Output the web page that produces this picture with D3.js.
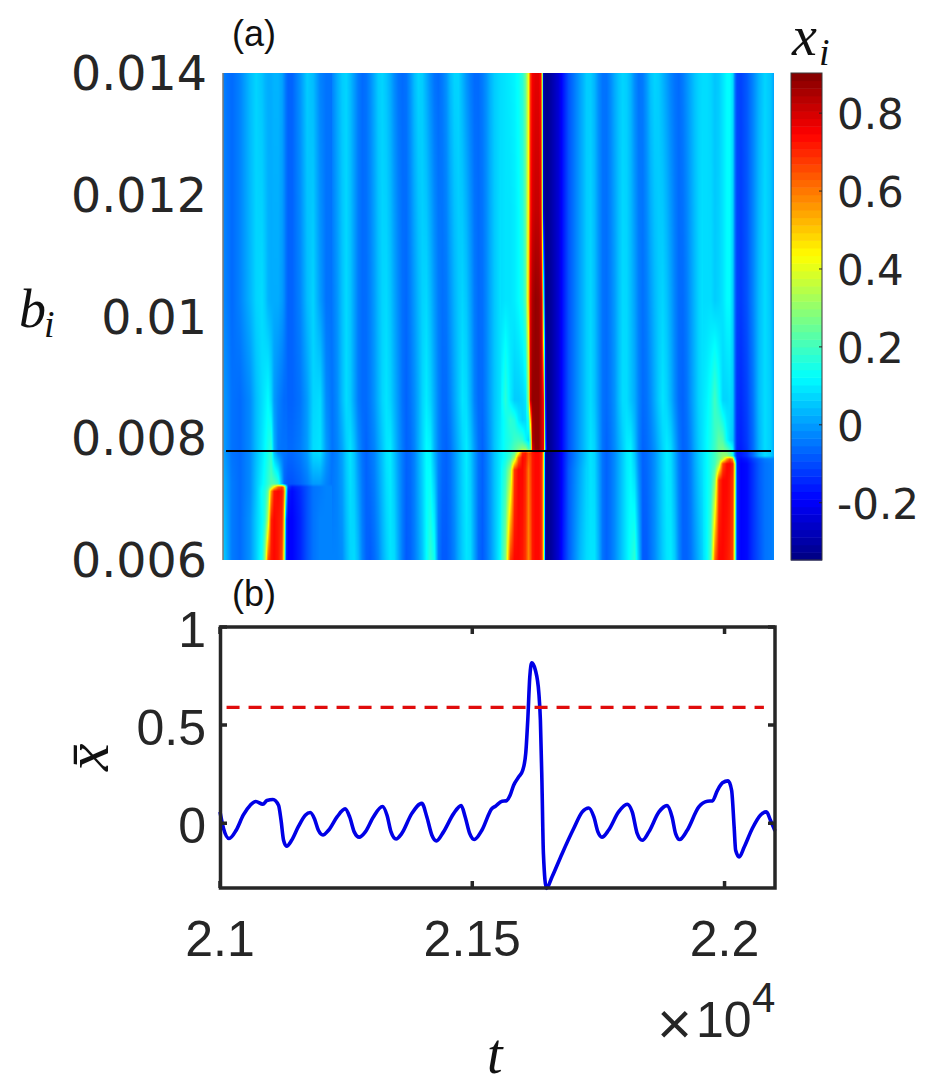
<!DOCTYPE html>
<html>
<head>
<meta charset="utf-8">
<script src="https://cdn.jsdelivr.net/npm/d3@7"></script>
<style>
  html, body { margin: 0; padding: 0; background: #fff; }
  text { font-family: "Liberation Sans", sans-serif; fill: #262626; }
  .dj { font-family: "DejaVu Sans", sans-serif; }
  .math { font-family: "Liberation Serif", serif; font-style: italic; fill: #111; }
</style>
</head>
<body>
<svg id="chart" width="937" height="1086"></svg>
<script>
// (a) x_i(t, b_i), five pieces along t, each with its own knots
const tA = [21000,21008,21018,21034,21054,21066,21078,21084,21090,21096,21102,21110,21118,21122,21126,21130,21138,21154,21168,21180,21194,21206,21218]
const bA = [0.014,0.01027,0.00863,0.00781,0.00725,0.0072,0.00713,0.00666,0.006]
const xA = [
  [-.03,-.05,-.06,-.03,.04,.07,.05,.03,.02,.02,.03,.03,.01,-.02,-.05,-.07,-.07,-.01,.06,.04,-.03,-.05,-.05],
  [-.02,-.04,-.06,-.03,.03,.07,.08,.06,.03,.02,.02,.02,.00,-.02,-.05,-.07,-.07,-.03,.04,.07,.00,-.05,-.05],
  [.00,-.02,-.05,-.06,-.02,.04,.08,.10,.12,.08,.00,-.03,-.05,-.06,-.06,-.07,-.07,-.05,.00,.07,.08,-.02,-.05],
  [.01,-.02,-.05,-.06,-.02,.04,.09,.12,.15,.18,.03,-.04,-.05,-.05,-.05,-.06,-.06,-.04,.00,.08,.09,.00,-.05],
  [.03,.00,-.04,-.06,-.02,.05,.11,.14,.18,.22,.22,.18,.02,-.06,-.08,-.09,-.09,-.07,-.04,.00,.00,-.03,-.05],
  [.03,.00,-.04,-.06,-.02,.05,.12,.15,.20,.30,.45,.62,.68,.55,.15,-.12,-.16,-.13,-.09,-.05,-.04,-.03,-.03],
  [.03,.00,-.04,-.06,-.02,.05,.13,.16,.24,.55,.72,.74,.72,.62,.15,-.16,-.18,-.14,-.09,-.05,-.04,-.03,-.03],
  [.05,.01,-.04,-.06,-.01,.06,.12,.18,.35,.70,.74,.72,.70,.50,-.10,-.19,-.19,-.15,-.09,-.05,-.03,-.03,-.03],
  [.07,.02,-.04,-.06,-.01,.06,.14,.30,.65,.72,.74,.72,.65,.40,-.14,-.19,-.19,-.15,-.09,-.05,-.03,-.03,-.03]
]
const tB = [21218,21228,21238,21246,21254,21262,21270,21278,21286,21294,21302,21310,21318,21326,21334,21342,21350,21358,21366,21374,21382,21390,21398,21406,21414,21422,21430,21438,21446,21454,21462,21470,21478,21486,21494,21502,21510,21518,21526,21534,21542,21554]
const bB = [0.014,0.00863,0.00781,0.006]
const xB = [
  [-.03,.02,.06,.07,.04,.00,-.04,-.06,-.05,-.02,.02,.06,.07,.05,.02,-.02,-.05,-.06,-.05,-.01,.04,.07,.06,.02,-.02,-.05,-.06,-.04,-.01,.04,.07,.07,.03,-.01,-.04,-.06,-.06,-.04,-.01,.03,.06,.08],
  [-.05,-.02,.04,.08,.06,.01,-.04,-.06,-.06,-.04,-.01,.03,.07,.09,.07,.03,-.01,-.05,-.07,-.05,-.02,.02,.07,.10,.07,.02,-.03,-.06,-.06,-.03,.01,.05,.09,.08,.03,-.03,-.06,-.06,-.03,.01,.05,.09],
  [-.05,-.03,.01,.06,.09,.05,-.01,-.05,-.07,-.05,-.03,.01,.05,.09,.10,.05,.00,-.04,-.07,-.06,-.03,.02,.07,.12,.11,.03,-.03,-.06,-.07,-.05,-.01,.03,.07,.10,.06,.00,-.05,-.07,-.04,.00,.05,.10],
  [-.03,-.03,-.02,.03,.07,.08,.04,-.03,-.07,-.08,-.06,-.03,.02,.06,.09,.08,.02,-.04,-.08,-.07,-.04,.00,.05,.12,.18,.14,-.04,-.08,-.08,-.06,-.03,.02,.06,.09,.08,.01,-.06,-.08,-.05,-.01,.04,.12]
]
const tC = [21554,21564,21574,21582,21590,21598,21604,21610,21614,21618,21624,21630,21634,21637,21640,21644,21648,21658,21670,21680,21690,21702,21714,21726]
const bC = [0.014,0.01175,0.01027,0.00863,0.0083,0.00797,0.00782,0.00776,0.00768,0.00748,0.006]
const xC = [
  [.08,.09,.10,.11,.13,.17,.25,.42,.68,.76,.78,.78,.74,.50,-.30,-.33,-.33,-.29,-.24,-.16,-.09,-.04,.01,.06],
  [.08,.09,.09,.10,.12,.16,.24,.45,.72,.80,.82,.82,.78,.55,-.28,-.33,-.33,-.29,-.24,-.16,-.09,-.04,.01,.06],
  [.08,.09,.09,.10,.12,.15,.22,.50,.78,.85,.88,.87,.84,.78,.20,-.33,-.34,-.30,-.24,-.16,-.09,-.04,.01,.06],
  [.10,.17,.10,.06,.06,.07,.09,.30,.82,.88,.88,.88,.84,.80,.72,-.20,-.34,-.30,-.24,-.16,-.09,-.04,.01,.06],
  [.10,.14,.18,.16,.10,.07,.08,.16,.50,.86,.88,.88,.84,.80,.74,-.15,-.34,-.30,-.24,-.16,-.09,-.04,.01,.06],
  [.10,.14,.16,.19,.20,.18,.12,.08,.25,.85,.88,.88,.84,.80,.76,-.10,-.34,-.30,-.24,-.16,-.09,-.04,.01,.06],
  [.10,.14,.18,.22,.26,.30,.30,.20,.22,.80,.88,.88,.84,.80,.76,-.05,-.34,-.30,-.24,-.16,-.09,-.04,.01,.06],
  [.10,.14,.18,.24,.42,.70,.72,.65,.68,.72,.74,.74,.72,.70,.45,-.30,-.34,-.30,-.24,-.16,-.09,-.04,.01,.06],
  [.10,.14,.20,.32,.62,.74,.72,.64,.66,.72,.74,.74,.72,.70,.45,-.30,-.34,-.30,-.24,-.16,-.09,-.04,.01,.06],
  [.11,.18,.32,.68,.74,.74,.70,.60,.66,.72,.74,.74,.72,.68,.45,-.30,-.34,-.30,-.24,-.16,-.08,-.03,.02,.07],
  [.14,.28,.68,.74,.74,.72,.68,.58,.64,.72,.74,.74,.72,.68,.45,-.30,-.34,-.30,-.24,-.15,-.08,-.02,.04,.08]
]
const tD = [21726,21734,21742,21750,21758,21766,21774,21782,21790,21798,21806,21814,21822,21830,21838,21846,21854,21862,21870,21878,21886,21894,21902,21910,21918,21926,21934,21942,21950,21958]
const bD = [0.014,0.00863,0.00781,0.006]
const xD = [
  [.06,.06,.03,-.02,-.05,-.05,-.02,.02,.05,.07,.06,.03,-.02,-.05,-.04,.00,.05,.07,.06,.03,.00,-.03,-.05,-.06,-.04,-.01,.02,.05,.07,.08],
  [.06,.08,.05,.00,-.05,-.06,-.04,-.01,.04,.08,.08,.05,.02,-.03,-.06,-.05,-.02,.02,.06,.09,.07,.03,-.02,-.06,-.07,-.05,-.01,.03,.07,.09],
  [.06,.09,.07,.01,-.05,-.07,-.05,-.02,.02,.06,.10,.11,.05,-.03,-.07,-.06,-.04,-.01,.03,.07,.10,.08,.02,-.04,-.07,-.06,-.03,.02,.06,.09],
  [.08,.09,.09,.03,-.05,-.07,-.05,-.02,.02,.06,.10,.14,.18,.05,-.08,-.08,-.05,-.02,.02,.06,.09,.10,.06,-.02,-.07,-.07,-.05,-.01,.03,.07]
]
const tE = [21958,21966,21974,21982,21990,21998,22006,22012,22018,22022,22026,22034,22046,22058,22070,22082,22094,22100]
const bE = [0.014,0.01027,0.00863,0.00797,0.00771,0.00766,0.00758,0.00731,0.006]
const xE = [
  [.08,.08,.07,.05,.06,.09,.12,.12,.08,-.04,-.10,-.11,-.08,-.03,.03,.07,.05,.01],
  [.08,.08,.08,.06,.07,.09,.12,.12,.06,-.05,-.11,-.12,-.09,-.03,.04,.08,.05,.01],
  [.09,.11,.14,.20,.14,.07,.07,.08,.06,-.06,-.13,-.14,-.11,-.05,.04,.08,.06,.02],
  [.09,.12,.15,.19,.24,.22,.12,.08,.05,-.06,-.14,-.15,-.12,-.06,.03,.08,.06,.02],
  [.09,.12,.16,.20,.26,.30,.30,.25,.15,-.05,-.15,-.16,-.13,-.06,.03,.08,.06,.02],
  [.09,.12,.16,.20,.26,.35,.55,.65,.55,.10,-.15,-.18,-.16,-.11,-.07,-.04,-.03,-.03],
  [.09,.12,.16,.20,.32,.66,.74,.74,.70,.42,-.15,-.19,-.18,-.13,-.08,-.05,-.04,-.03],
  [.09,.12,.16,.28,.68,.74,.74,.72,.68,.40,-.14,-.19,-.18,-.13,-.08,-.05,-.04,-.03],
  [.08,.12,.22,.62,.74,.74,.72,.70,.66,.30,-.14,-.19,-.18,-.13,-.09,-.05,-.04,-.03]
]
const pieces = [[tA,bA,xA],[tB,bB,xB],[tC,bC,xC],[tD,bD,xD],[tE,bE,xE]]

// (b) mean x over time
const tMean = [21000,21007,21018,21032,21046,21060,21071,21085,21093,21105,21116,21121,21126,21132,21142,21155,21169,21179,21187,21195,21204,21215,21232,21248,21257,21266,21276,21288,21304,21322,21331,21339,21349,21360,21380,21400,21410,21420,21429,21443,21463,21478,21486,21495,21504,21519,21539,21546,21559,21567,21575,21582,21592,21600,21606,21610,21614,21618,21625,21632,21635,21638,21641,21647,21658,21678,21701,21718,21731,21741,21749,21757,21770,21790,21807,21817,21827,21837,21850,21870,21886,21896,21903,21911,21926,21949,21966,21976,21986,21996,22007,22014,22019,22022,22029,22039,22055,22071,22083,22091,22100]
const xMean = [.058,-.027,-.078,-.036,.041,.092,.111,.097,.116,.121,.092,.015,-.087,-.117,-.087,-.019,.041,.055,.024,-.036,-.06,-.036,.032,.073,.032,-.044,-.071,-.044,.032,.085,.041,-.044,-.08,-.053,.049,.101,.032,-.061,-.09,-.044,.049,.09,.032,-.053,-.083,-.036,.075,.087,.112,.114,.143,.194,.236,.27,.357,.526,.746,.818,.781,.662,.526,.219,-.155,-.332,-.274,-.155,-.027,.058,.078,.032,-.044,-.071,-.036,.058,.097,.058,-.053,-.087,-.044,.058,.09,.032,-.053,-.083,-.036,.083,.112,.114,.168,.206,.216,.168,-.019,-.138,-.172,-.121,-.027,.041,.058,.015,-.039]
const threshold = 0.59
const thresholdSpan = [21013,22078]
const bCut = 0.00779

const bTicks = [0.006,0.008,0.01,0.012,0.014]
const cbarTicks = [-0.2,0,0.2,0.4,0.6,0.8]
const meanTicks = [0,0.5,1]
const tTicks = [21000,21500,22000]
const clim = [-0.347,0.903]

const svg = d3.select('#chart')

const xHeat = d3.scaleLinear().domain([21000,22100]).range([223,774])
const yHeat = d3.scaleLinear().domain([0.006,0.014]).range([560,73])
const xLine = d3.scaleLinear().domain([21000,22100]).range([220,775])
const yLine = d3.scaleLinear().domain([-0.33,1]).range([888,627])
const yBar = d3.scaleLinear().domain(clim).range([560,73])

// jet
const jet = d3.scaleLinear()
  .domain([0,1/8,3/8,5/8,7/8,1].map(f => clim[0] + f*(clim[1]-clim[0])))
  .range(['#000080','#0000ff','#00ffff','#ffff00','#ff0000','#800000'])
  .clamp(true)

// heatmap, one canvas pixel per screen pixel, shaded between the table rows
const W = 551, H = 487
const canvas = document.createElement('canvas')
canvas.width = W
canvas.height = H
const ctx = canvas.getContext('2d')
const img = ctx.createImageData(W,H)
const rowScales = pieces.map(([t,b,m]) => ({
  t0: t[0], t1: t[t.length-1], b,
  rows: m.map(r => d3.scaleLinear().domain(t).range(r))
}))
for (let i = 0; i < W; i++) {
  const t = xHeat.invert(223 + i + 0.5)
  const p = rowScales.find(s => t <= s.t1) || rowScales[rowScales.length-1]
  const col = d3.scaleLinear().domain(p.b.slice().reverse()).range(p.rows.map(r => r(t)).reverse())
  for (let j = 0; j < H; j++) {
    const c = d3.rgb(jet(col(yHeat.invert(73 + j + 0.5))))
    const k = (j*W + i)*4
    img.data[k] = c.r
    img.data[k+1] = c.g
    img.data[k+2] = c.b
    img.data[k+3] = 255
  }
}
ctx.putImageData(img,0,0)
svg.append('image')
  .attr('x',223).attr('y',73).attr('width',W).attr('height',H)
  .attr('href',canvas.toDataURL())

svg.append('line')
  .attr('x1',223).attr('x2',223).attr('y1',73).attr('y2',560)
  .attr('stroke','#777').attr('stroke-width',1.5)

svg.append('line')
  .attr('x1',226).attr('x2',771)
  .attr('y1',yHeat(bCut)).attr('y2',yHeat(bCut))
  .attr('stroke','#000').attr('stroke-width',2)

svg.selectAll('.bl').data(bTicks).join('text')
  .attr('class','dj')
  .attr('x',207).attr('y',d => yHeat(d) + 17)
  .attr('text-anchor','end').attr('font-size',47.5)
  .text(d => d)

// colorbar
const levels = d3.range(64)
const step = (clim[1]-clim[0])/64
svg.selectAll('.cb').data(levels).join('rect')
  .attr('x',791).attr('width',31)
  .attr('y',d => yBar(clim[0] + (d+1)*step))
  .attr('height',d => yBar(clim[0] + d*step) - yBar(clim[0] + (d+1)*step) + 0.5)
  .attr('fill',d => jet(clim[0] + (d+0.5)*step))
svg.append('rect')
  .attr('x',791).attr('y',73).attr('width',31).attr('height',487)
  .attr('fill','none').attr('stroke','#3a3a3a').attr('stroke-width',1)
svg.selectAll('.ct').data(cbarTicks).join('line')
  .attr('x1',819).attr('x2',822)
  .attr('y1',d => yBar(d)).attr('y2',d => yBar(d))
  .attr('stroke','#262626').attr('stroke-width',1)
svg.selectAll('.cl').data(cbarTicks).join('text')
  .attr('class','dj')
  .attr('x',837).attr('y',d => yBar(d) + 16)
  .attr('font-size',42)
  .text(d => d)

// panel b
const gLine = svg.append('g')
const line = d3.line()
  .x(d => xLine(d[0]))
  .y(d => yLine(d[1]))
  .curve(d3.curveMonotoneX)
gLine.append('path')
  .datum(d3.zip(tMean,xMean))
  .attr('d',line)
  .attr('fill','none').attr('stroke','#0000e6').attr('stroke-width',3.6)
gLine.append('line')
  .attr('x1',xLine(thresholdSpan[0])).attr('x2',xLine(thresholdSpan[1]))
  .attr('y1',yLine(threshold)).attr('y2',yLine(threshold))
  .attr('stroke','#e00c0c').attr('stroke-width',3.2).attr('stroke-dasharray','13 9')

const axisB = svg.append('g').attr('fill','none').attr('stroke','#262626').attr('stroke-width',3.5)
axisB.append('rect').attr('x',220.5).attr('y',627).attr('width',554.5).attr('height',261)
axisB.selectAll('.tx').data(tTicks).join('path')
  .attr('d',d => `M${xLine(d)},627v7M${xLine(d)},888v-7`)
axisB.selectAll('.ty').data(meanTicks).join('path')
  .attr('d',d => `M220,${yLine(d)}h7M775,${yLine(d)}h-7`)

svg.selectAll('.ml').data(meanTicks).join('text')
  .attr('x',206).attr('y',d => yLine(d) + 20)
  .attr('text-anchor','end').attr('font-size',50)
  .text(d => d)
svg.selectAll('.tl').data(tTicks).join('text')
  .attr('x',d => xLine(d)).attr('y',956)
  .attr('text-anchor','middle').attr('font-size',50)
  .text(d => d/10000)

svg.append('text').attr('x',657).attr('y',1044).attr('font-size',60).text('×')
svg.append('text').attr('x',696).attr('y',1037).attr('font-size',50).text('10')
svg.append('text').attr('x',752).attr('y',1012).attr('font-size',42).text('4')

// panel letters and math labels
svg.append('text').attr('x',232).attr('y',46).attr('font-size',36).attr('style','fill:#111').text('(a)')
svg.append('text').attr('x',232).attr('y',606).attr('font-size',36).attr('style','fill:#111').text('(b)')
svg.append('text').attr('class','math').attr('x',792).attr('y',55).attr('font-size',56).text('x')
svg.append('text').attr('class','math').attr('x',819).attr('y',65).attr('font-size',38).text('i')
svg.append('text').attr('class','math').attr('x',19).attr('y',327).attr('font-size',54).text('b')
svg.append('text').attr('class','math').attr('x',44).attr('y',337).attr('font-size',38).text('i')
svg.append('text').attr('class','math').attr('x',487).attr('y',1073).attr('font-size',56).text('t')
svg.append('text').attr('class','math')
  .attr('transform','translate(108,771) rotate(-90)')
  .attr('font-size',62)
  .text('x\u0304')
</script>
</body>
</html>
